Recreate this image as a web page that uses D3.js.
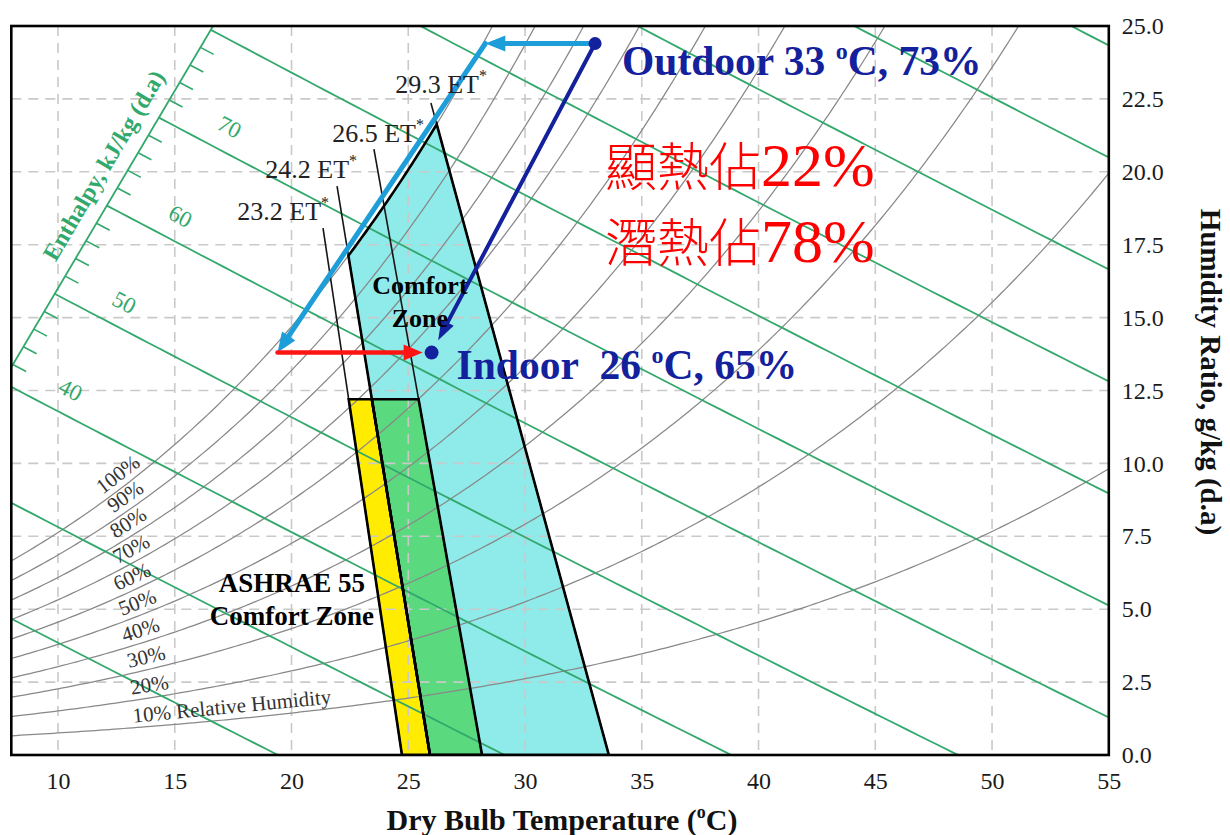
<!DOCTYPE html>
<html>
<head>
<meta charset="utf-8">
<script src="https://cdn.jsdelivr.net/npm/d3@7/dist/d3.min.js"></script>
<style>
  body { margin: 0; background: #fff; }
  svg { display: block; }
</style>
</head>
<body>
<svg id="chart" width="1230" height="835"></svg>
<script>
// ---------- chart data ----------
const tempTicks = [10, 15, 20, 25, 30, 35, 40, 45, 50, 55];            // dry bulb, °C
const humidityTicks = [0, 2.5, 5, 7.5, 10, 12.5, 15, 17.5, 20, 22.5, 25]; // g/kg
const rhLevels = [10, 20, 30, 40, 50, 60, 70, 80, 90, 100];             // %
const enthalpyLevels = [20, 30, 40, 50, 60, 70, 80, 90, 100, 110, 120]; // kJ/kg
const enthalpyLabelled = [40, 50, 60, 70];

// effective-temperature lines bounding the comfort zones
const etNames = ["23.2", "24.2", "26.5", "29.3"];
const etBottomT = [24.73, 25.93, 28.16, 33.59];   // °C at w = 0
const etTopT = [21.35, 21.95, 23.53, 25.97];      // °C at upper end
const etTopW = [18.07, 19.51, 20.78, 22.36];      // g/kg at upper end
const ashraeMaxW = 12.2;                          // humidity limit of ASHRAE 55 zone

// air-conditioning process states
const stateNames = ["Outdoor", "Dew point", "Coil leaving", "Indoor"];
const stateT = [33, 28.3, 19.4, 26];
const stateW = [24.4, 24.4, 13.8, 13.8];

// ---------- layout ----------
const rhLabelT = [17.5, 14.0, 13.9, 13.7, 13.6, 13.4, 13.4, 13.3, 13.2, 12.9];
const enthalpyLabelT = [10.05, 12.35, 14.75, 16.85];
const etLabelDx = [6, 20, 50, 56];
const etLabelDy = [-8, -8, -7, -10];
const enthalpyScaleFrom = { T: 8, w: 13.3 };
const enthalpyScaleTo = { T: 16.64, w: 25 };

const serif = "'Liberation Serif', 'Times New Roman', serif";
const GREEN = "#33a86c";
const NAVY = "#14219c";
const LIGHTBLUE = "#1e9ed8";
const RED = "#ff1414";

const svg = d3.select("#chart");
const plot = { left: 11.3, right: 1108.8, top: 26, bottom: 755 };
const x = d3.scaleLinear().domain([8, 55]).range([plot.left, plot.right]);
const y = d3.scaleLinear().domain([0, 25]).range([plot.bottom, plot.top]);

// ---------- psychrometrics ----------
const P = 101.325;
const psat = T => 0.61078 * Math.exp(17.27 * T / (T + 237.3));
const wRH = (T, rh) => { const pv = rh / 100 * psat(T); return 622 * pv / (P - pv); };
const CPA = 1.03;
const wEnth = (T, h) => 1000 * (h - CPA * T) / (2501 + 1.86 * T);
const hOf = (T, w) => CPA * T + w * (2501 + 1.86 * T) / 1000;

const line = d3.line().x(d => x(d[0])).y(d => y(d[1]));

const defs = svg.append("defs");
defs.append("clipPath").attr("id", "plotClip").append("rect")
  .attr("x", plot.left).attr("y", plot.top)
  .attr("width", plot.right - plot.left).attr("height", plot.bottom - plot.top);

const gFill = svg.append("g").attr("clip-path", "url(#plotClip)");
const gGrid = svg.append("g").attr("clip-path", "url(#plotClip)");
const gCurves = svg.append("g").attr("clip-path", "url(#plotClip)");
const gZones = svg.append("g").attr("clip-path", "url(#plotClip)");
const gFrame = svg.append("g");
const gProc = svg.append("g");
const gText = svg.append("g");

// ---------- comfort zones ----------
const etT = (i, w) => etBottomT[i] + (etTopT[i] - etBottomT[i]) * w / etTopW[i];
function satCross(i) {
  let lo = 0, hi = etTopW[i];
  for (let k = 0; k < 60; k++) {
    const m = (lo + hi) / 2;
    if (wRH(etT(i, m), 100) > m) lo = m; else hi = m;
  }
  return (lo + hi) / 2;
}
const w1 = satCross(1), w3 = satCross(3);
const T1 = etT(1, w1), T3 = etT(3, w3);
const cyanPts = [[etT(1, 0), 0], [T1, w1]]
  .concat(d3.range(T1 + 0.1, T3, 0.1).map(T => [T, wRH(T, 100)]))
  .concat([[T3, w3], [etT(3, 0), 0]]);
const zonePts = (a, b) => [[etT(a, 0), 0], [etT(a, ashraeMaxW), ashraeMaxW],
                           [etT(b, ashraeMaxW), ashraeMaxW], [etT(b, 0), 0]];
const zones = [
  { pts: cyanPts, fill: "#8feaea" },
  { pts: zonePts(1, 2), fill: "#5ad97f" },
  { pts: zonePts(0, 1), fill: "#ffec00" }
];
gFill.selectAll("path").data(zones).join("path")
  .attr("d", d => line(d.pts) + "Z").attr("fill", d => d.fill);

// ---------- grid ----------
gGrid.selectAll("line.gx").data(tempTicks.filter(t => t < 55)).join("line")
  .attr("class", "gx").attr("x1", d => x(d)).attr("x2", d => x(d))
  .attr("y1", plot.top).attr("y2", plot.bottom);
gGrid.selectAll("line.gy").data(humidityTicks.filter(t => t > 0 && t < 25)).join("line")
  .attr("class", "gy").attr("y1", d => y(d)).attr("y2", d => y(d))
  .attr("x1", plot.left).attr("x2", plot.right);
gGrid.selectAll("line").attr("stroke", "#c9c9c9").attr("stroke-width", 1.6)
  .attr("stroke-dasharray", "10,7");

// ---------- relative humidity curves ----------
const rhCurve = rh => {
  const pts = [];
  for (let T = 8; T <= 55.001; T += 0.2) {
    const w = wRH(T, rh);
    pts.push([T, w]);
    if (w > 26) break;
  }
  return pts;
};
gCurves.selectAll("path.rh").data(rhLevels).join("path")
  .attr("class", "rh").attr("d", d => line(rhCurve(d)))
  .attr("fill", "none").attr("stroke", "#888").attr("stroke-width", 1.25);

// ---------- enthalpy lines and scale ----------
const scalePt = s => [enthalpyScaleFrom.T + (enthalpyScaleTo.T - enthalpyScaleFrom.T) * s,
                      enthalpyScaleFrom.w + (enthalpyScaleTo.w - enthalpyScaleFrom.w) * s];
const hAtS = s => { const p = scalePt(s); return hOf(p[0], p[1]); };
function scaleCross(h) {
  let lo = 0, hi = 1;
  for (let k = 0; k < 60; k++) {
    const m = (lo + hi) / 2;
    if (hAtS(m) < h) lo = m; else hi = m;
  }
  return scalePt((lo + hi) / 2);
}
const hMin = hAtS(0), hMax = hAtS(1);
const enthalpyLine = h => {
  const T0 = (h >= hMin && h <= hMax) ? scaleCross(h)[0] : 8;
  const T1e = Math.min(55, h / CPA);
  return d3.range(T0, T1e, 0.5).concat([T1e]).map(T => [T, wEnth(T, h)]);
};
gCurves.selectAll("path.h").data(enthalpyLevels).join("path")
  .attr("class", "h").attr("d", d => line(enthalpyLine(d)))
  .attr("fill", "none").attr("stroke", GREEN).attr("stroke-width", 1.8);

const sA = scalePt(0), sB = scalePt(1);
gCurves.append("line")
  .attr("x1", x(sA[0])).attr("y1", y(sA[1])).attr("x2", x(sB[0])).attr("y2", y(sB[1]))
  .attr("stroke", GREEN).attr("stroke-width", 1.8);
const minorH = d3.range(Math.ceil(hMin / 2) * 2, hMax, 2).filter(h => h % 10 !== 0);
gCurves.selectAll("line.tick").data(minorH).join("line")
  .attr("class", "tick")
  .each(function (h) {
    const p = scaleCross(h);
    const px = x(p[0]), py = y(p[1]);
    const qx = x(p[0] + 1), qy = y(wEnth(p[0] + 1, h));
    const L = Math.hypot(qx - px, qy - py);
    d3.select(this).attr("x1", px).attr("y1", py)
      .attr("x2", px + (qx - px) / L * 15).attr("y2", py + (qy - py) / L * 15);
  })
  .attr("stroke", GREEN).attr("stroke-width", 1.6);

// ---------- ET lines and zone outlines ----------
gZones.selectAll("line.et").data(etNames).join("line")
  .attr("class", "et")
  .attr("x1", (d, i) => x(etTopT[i])).attr("y1", (d, i) => y(etTopW[i]))
  .attr("x2", (d, i) => x(etBottomT[i])).attr("y2", y(0))
  .attr("stroke", "#151515").attr("stroke-width", 1.6);
gZones.selectAll("path.outline").data(zones).join("path")
  .attr("class", "outline").attr("d", d => line(d.pts) + "Z")
  .attr("fill", "none").attr("stroke", "#000").attr("stroke-width", 2.6)
  .attr("stroke-linejoin", "miter");

// ---------- frame and axes ----------
gFrame.append("rect")
  .attr("x", plot.left).attr("y", plot.top)
  .attr("width", plot.right - plot.left).attr("height", plot.bottom - plot.top)
  .attr("fill", "none").attr("stroke", "#000").attr("stroke-width", 2.6);

const xAxis = gFrame.append("g").attr("transform", `translate(0,${plot.bottom})`)
  .call(d3.axisBottom(x).tickValues(tempTicks).tickSize(0).tickPadding(17).tickFormat(d3.format("d")));
const yAxis = gFrame.append("g").attr("transform", `translate(${plot.right},0)`)
  .call(d3.axisRight(y).tickValues(humidityTicks).tickSize(0).tickPadding(13).tickFormat(d3.format(".1f")));
[xAxis, yAxis].forEach(a => {
  a.select(".domain").remove();
  a.selectAll("text").attr("font-family", serif).attr("font-size", 24).attr("fill", "#1a1a1a");
});

gText.append("text")
  .attr("x", 562).attr("y", 830).attr("text-anchor", "middle")
  .attr("font-family", serif).attr("font-size", 30).attr("font-weight", "bold").attr("fill", "#111")
  .call(t => {
    t.append("tspan").text("Dry Bulb Temperature (");
    t.append("tspan").attr("font-size", 18).attr("dy", -12).text("o");
    t.append("tspan").attr("dy", 12).text("C)");
  });
gText.append("text")
  .attr("transform", "translate(1201,372) rotate(90)").attr("text-anchor", "middle")
  .attr("font-family", serif).attr("font-size", 29).attr("font-weight", "bold").attr("fill", "#111")
  .text("Humidity Ratio, g/kg (d.a)");

// ---------- curve labels ----------
const angleAt = (f, T) => {
  const x0 = x(T - 0.3), y0 = y(f(T - 0.3)), x1 = x(T + 0.3), y1 = y(f(T + 0.3));
  return Math.atan2(y1 - y0, x1 - x0) * 180 / Math.PI;
};
gText.selectAll("text.rh").data(rhLevels).join("text")
  .attr("class", "rh")
  .attr("transform", (d, i) => {
    const T = rhLabelT[i], f = t => wRH(t, d);
    return `translate(${x(T)},${y(f(T))}) rotate(${angleAt(f, T)})`;
  })
  .attr("dy", -6).attr("text-anchor", "middle")
  .attr("font-family", serif).attr("font-size", 21).attr("fill", "#333")
  .text(d => d === 10 ? "10% Relative Humidity" : d + "%");

gText.selectAll("text.h").data(enthalpyLabelled).join("text")
  .attr("class", "h")
  .attr("transform", (d, i) => {
    const T = enthalpyLabelT[i], f = t => wEnth(t, d);
    return `translate(${x(T)},${y(f(T))}) rotate(${angleAt(f, T)})`;
  })
  .attr("dy", -17).attr("text-anchor", "middle")
  .attr("font-family", serif).attr("font-size", 23).attr("fill", GREEN)
  .text(d => d);

const scaleAngle = Math.atan2(y(sB[1]) - y(sA[1]), x(sB[0]) - x(sA[0])) * 180 / Math.PI;
const titleAt = scalePt(0.557);
gText.append("text")
  .attr("transform", `translate(${x(titleAt[0])},${y(titleAt[1])}) rotate(${scaleAngle})`)
  .attr("dy", -15).attr("text-anchor", "middle")
  .attr("font-family", serif).attr("font-size", 24).attr("font-weight", "bold").attr("fill", GREEN)
  .text("Enthalpy, kJ/kg (d.a)");

gText.selectAll("text.et").data(etNames).join("text")
  .attr("class", "et")
  .attr("x", (d, i) => x(etTopT[i]) + etLabelDx[i])
  .attr("y", (d, i) => y(etTopW[i]) + etLabelDy[i])
  .attr("text-anchor", "end")
  .attr("font-family", serif).attr("font-size", 26).attr("fill", "#222")
  .each(function (d) {
    const t = d3.select(this);
    t.append("tspan").text(d + " ET");
    t.append("tspan").attr("font-size", 16).attr("dy", -12).text("*");
  });

// zone captions
const bold = (sel, size) => sel.attr("font-family", serif).attr("font-weight", "bold")
  .attr("font-size", size).attr("fill", "#000").attr("text-anchor", "middle");
gText.append("text").attr("x", x(25.5)).attr("y", y(15.8)).call(bold, 26).text("Comfort");
gText.append("text").attr("x", x(25.5)).attr("y", y(15.8) + 33).call(bold, 26).text("Zone");
gText.append("text").attr("x", x(20.02)).attr("y", y(5.59)).call(bold, 27).text("ASHRAE 55");
gText.append("text").attr("x", x(20.02)).attr("y", y(5.59) + 33).call(bold, 27).text("Comfort Zone");

// ---------- process arrows ----------
const pt = i => [x(stateT[i]), y(stateW[i])];
function arrow(p0, p1, color, width, headLen, headHalf, trim) {
  const dx = p1[0] - p0[0], dy = p1[1] - p0[1], L = Math.hypot(dx, dy);
  const ux = dx / L, uy = dy / L;
  const tip = [p1[0] - ux * trim, p1[1] - uy * trim];
  const base = [tip[0] - ux * headLen, tip[1] - uy * headLen];
  gProc.append("line")
    .attr("x1", p0[0]).attr("y1", p0[1])
    .attr("x2", base[0] + ux * 3).attr("y2", base[1] + uy * 3)
    .attr("stroke", color).attr("stroke-width", width).attr("stroke-linecap", "round");
  gProc.append("path")
    .attr("d", `M${tip[0]},${tip[1]}L${base[0] - uy * headHalf},${base[1] + ux * headHalf}` +
               `L${base[0] + uy * headHalf},${base[1] - ux * headHalf}Z`)
    .attr("fill", color);
}
arrow(pt(0), pt(1), LIGHTBLUE, 5, 20, 8, 0);
arrow(pt(1), pt(2), LIGHTBLUE, 5, 20, 8, 0);
arrow(pt(2), pt(3), RED, 4.5, 19, 8, 9);
arrow(pt(0), pt(3), NAVY, 4, 20, 7, 14);

gProc.append("circle").attr("cx", pt(0)[0]).attr("cy", pt(0)[1]).attr("r", 6.5).attr("fill", NAVY);
gProc.append("circle").attr("cx", pt(3)[0]).attr("cy", pt(3)[1]).attr("r", 7).attr("fill", NAVY);

function stateLabel(i, dx, dy, temp, rh, gap) {
  const p = pt(i);
  gText.append("text")
    .attr("x", p[0] + dx).attr("y", p[1] + dy)
    .attr("font-family", serif).attr("font-size", 41.5).attr("font-weight", "bold").attr("fill", NAVY)
    .call(t => {
      t.append("tspan").attr("xml:space", "preserve").text(stateNames[i] + gap + temp + " ");
      t.append("tspan").attr("font-size", 24).attr("dy", -16).text("o");
      t.append("tspan").attr("dy", 16).text("C, " + rh + "%");
    });
}
stateLabel(0, 27, 32, 33, 73, " ");
stateLabel(3, 25, 26, 26, 65, "\u00a0 ");

// ---------- sensible / latent share ----------
const shareLines = [["顯熱佔", "22%"], ["潛熱佔", "78%"]];
const shareW = [19.52, 16.9];
shareLines.forEach((s, i) => {
  gText.append("text")
    .attr("x", x(33.42)).attr("y", y(shareW[i]))
    .attr("fill", "#ff0000")
    .call(t => {
      t.append("tspan").attr("font-family", "'Noto Sans CJK TC', 'Noto Sans CJK SC', sans-serif")
        .attr("font-weight", 300).attr("font-size", 52).text(s[0]);
      t.append("tspan").attr("font-family", serif).attr("font-size", 62).text(s[1]);
    });
});
</script>
</body>
</html>
